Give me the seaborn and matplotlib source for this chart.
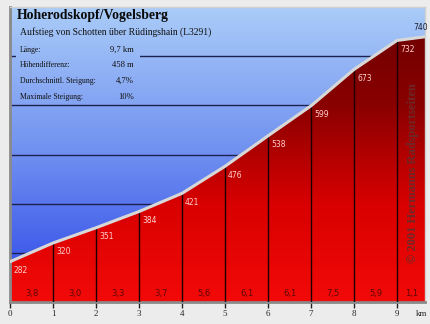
import numpy as np
import matplotlib
matplotlib.use("Agg")
import matplotlib.pyplot as plt
from matplotlib.colors import LinearSegmentedColormap
import seaborn as sns

# Profile data: distance (km) and elevation (m)
km = [0, 1, 2, 3, 4, 5, 6, 7, 8, 9, 9.7]
elev = [282, 320, 351, 384, 421, 476, 538, 599, 673, 732, 740]
grades = ["3,8", "3,0", "3,3", "3,7", "5,6", "6,1", "6,1", "7,5", "5,9", "1,1"]
tick_km = [0, 1, 2, 3, 4, 5, 6, 7, 8, 9]
grid_levels = [300, 400, 500, 600, 700]

title = "Hoherodskopf/Vogelsberg"
subtitle = "Aufstieg von Schotten über Rüdingshain (L3291)"
facts_labels = ["Länge:", "Höhendifferenz:", "Durchschnittl. Steigung:", "Maximale Steigung:"]
facts_values = ["9,7 km", "458 m", "4,7%", "10%"]
credit = "© 2001 Hermanns Radsportseiten"

W, H = 430, 324
X0, X1 = 0, 9.65
Y0, Y1 = 200, 800

sns.set_theme(style="white")
plt.rcParams["font.family"] = ["Liberation Serif", "DejaVu Serif"]

fig = plt.figure(figsize=(W / 100, H / 100), dpi=100, facecolor="#ececec")
ax = fig.add_axes([10 / W, 22 / H, 415 / W, 295 / H])
ax.set_xlim(X0, X1)
ax.set_ylim(Y0, Y1)

# Sky gradient (light at top, deep blue at bottom)
sky = LinearSegmentedColormap.from_list("sky", ["#2a44e8", "#6f8ff0", "#aaccf8"])
grad = np.linspace(0, 1, 256).reshape(-1, 1)
ax.imshow(grad, cmap=sky, origin="lower", aspect="auto",
          extent=[X0, X1, Y0, Y1], zorder=0)

# Horizontal reference lines
for lv in grid_levels:
    ax.axhline(lv, color="#1e2050", lw=1.0, zorder=1)

# Panel behind the facts table, filled with the same sky gradient
tb_x0, tb_x1 = 5.5 / 43, 129 / 43
ty = lambda py: Y1 - (py - 7) / 295 * (Y1 - Y0)
panel_img = ax.imshow(grad, cmap=sky, origin="lower", aspect="auto",
                      extent=[X0, X1, Y0, Y1], zorder=1.5)
panel = plt.Rectangle((tb_x0, ty(103)), tb_x1 - tb_x0, ty(42) - ty(103),
                      transform=ax.transData, facecolor="none", edgecolor="none")
ax.add_patch(panel)
panel_img.set_clip_path(panel)

# Terrain fill with a vertical red gradient
poly = ax.fill_between(km, elev, Y0, color="none", lw=0, zorder=2)
terrain = LinearSegmentedColormap.from_list("terrain_red", ["#f20a08", "#d80000", "#8a0000", "#6a0000"])
im = ax.imshow(grad, cmap=terrain, origin="lower", aspect="auto",
               extent=[X0, X1, Y0, Y1], zorder=2)
im.set_clip_path(poly.get_paths()[0], transform=ax.transData)

# Kilometre markers
for k, e in zip(km[1:-1], elev[1:-1]):
    ax.plot([k, k], [Y0, e], color="#1a0000", lw=1.0, zorder=3)

# Road surface line
sns.lineplot(x=km, y=elev, ax=ax, color="#d8d8d8", lw=2.2, zorder=4, legend=False)

# Elevation labels
for k, e in zip(km[:-1], elev[:-1]):
    ax.text(k + 0.07, e - 18, str(e), fontsize=5.5, color="#ffd0d0",
            family="DejaVu Sans", ha="left", va="center", zorder=5)
ax.text(km[-1] - 0.33, elev[-1] + 18, str(elev[-1]), fontsize=5.5, color="#202030",
        family="DejaVu Sans", ha="left", va="center", zorder=5)

# Gradient per kilometre
for i, g in enumerate(grades):
    mid = (km[i] + km[i + 1]) / 2
    ax.text(mid, 218, g, fontsize=6, color="#5a0808", family="DejaVu Sans",
            ha="center", va="center", zorder=5)

# Credit line
ax.text(9.38, 462, credit, rotation=90, fontsize=9, fontweight="bold",
        color="#6e2828", ha="center", va="center", zorder=5)

# Axes styling
ax.set_xticks(tick_km)
ax.set_xticklabels([str(t) for t in tick_km], fontsize=6.5)
ax.set_yticks([])
ax.tick_params(axis="x", direction="out", length=4, width=1, color="#222222", pad=2, bottom=True)
ax.set_xlabel("")
ax.set_ylabel("")
for side in ["left", "bottom"]:
    ax.spines[side].set_color("#8a8a8a")
    ax.spines[side].set_linewidth(2)
for side in ["top", "right"]:
    ax.spines[side].set_color("#d0d0d0")
    ax.spines[side].set_linewidth(1)

fig.text(422 / W, 1 - 314 / H, "km", fontsize=6.5, ha="center", va="center")

# Header and facts table
fig.text(17 / W, 1 - 16 / H, title, fontsize=9.9, fontweight="bold", ha="left", va="center", color="#0a0a0a")
fig.text(20 / W, 1 - 32 / H, subtitle, fontsize=6.9, ha="left", va="center", color="#101010")
rows_y = [50, 65, 81, 97]
for lbl, val, yy in zip(facts_labels, facts_values, rows_y):
    fig.text(20 / W, 1 - yy / H, lbl, fontsize=5.6, ha="left", va="center", color="#101010")
    fig.text(134 / W, 1 - yy / H, val, fontsize=6.2, ha="right", va="center", color="#101010")

fig.savefig("out.png", dpi=100, facecolor=fig.get_facecolor())
